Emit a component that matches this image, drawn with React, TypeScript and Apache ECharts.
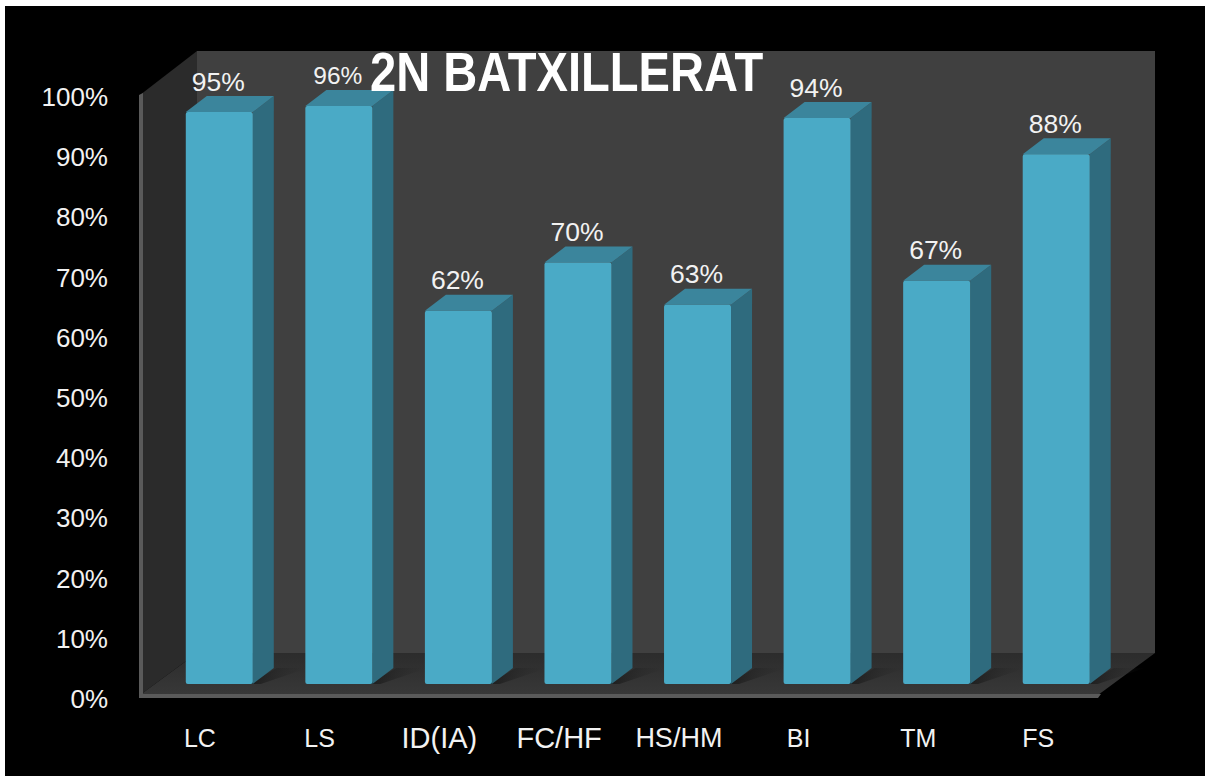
import React, { useEffect, useRef } from "react";
import * as echarts from "echarts";

const categories = ["LC", "LS", "ID(IA)", "FC/HF", "HS/HM", "BI", "TM", "FS"];
const categoryFontSizes = [25, 25, 29, 29, 27, 25, 25, 25];
const values = [95, 96, 62, 70, 63, 94, 67, 88];
const yTicks = [0, 10, 20, 30, 40, 50, 60, 70, 80, 90, 100];
const labelFontSizes = [26.5, 24.5, 26.5, 26.5, 26.5, 26.5, 26.5, 26.5];
const FONT = '"Liberation Sans", Arial, sans-serif';

const DX = 21;
const DY = 16;

function renderBar(params: any, api: any) {
  const i = api.value(0);
  const v = api.value(1);
  const [cx, top] = api.coord([i, v]);
  const [, base] = api.coord([i, 0]);
  const w = 67;
  const l = cx - w / 2;
  const r = cx + w / 2;
  return {
    type: "group",
    children: [
      {
        type: "polygon",
        shape: { points: [[r - 4, base], [r + DX + 3, base - DY], [r + DX + 34, base - DY], [r + 8, base]] },
        style: {
          fill: new echarts.graphic.LinearGradient(0, 0, 1, 0, [
            { offset: 0, color: "rgba(18,18,18,0.7)" },
            { offset: 1, color: "rgba(40,40,40,0)" },
          ]),
        },
      },
      {
        type: "polygon",
        shape: { points: [[r, top], [r + DX, top - DY], [r + DX, base - DY], [r, base]] },
        style: { fill: "#2f6b7e" },
      },
      {
        type: "polygon",
        shape: { points: [[l, top], [l + DX, top - DY], [r + DX, top - DY], [r, top]] },
        style: { fill: "#3b859c" },
      },
      {
        type: "rect",
        shape: { x: l, y: top, width: w, height: base - top, r: 2 },
        style: { fill: "#4aaac6" },
      },
      {
        type: "text",
        x: cx - 1,
        y: top - 30.5,
        style: {
          text: v + "%",
          fill: "#f2f2f2",
          font: `${labelFontSizes[i]}px ${FONT}`,
          align: "center",
          verticalAlign: "middle",
        },
      },
    ],
  };
}

export default function App() {
  const ref = useRef<HTMLDivElement>(null);
  useEffect(() => {
    const chart = echarts.init(ref.current!, undefined, { renderer: "svg" });
    const rich: Record<string, any> = {};
    categories.forEach((_, i) => {
      rich["c" + i] = { fontSize: categoryFontSizes[i], fontFamily: FONT, color: "#f2f2f2", lineHeight: 30, height: 30, verticalAlign: "middle" };
    });
    chart.setOption({
      animation: false,
      backgroundColor: "#000000",
      graphic: [
        { type: "rect", z: -10, shape: { x: 0, y: 0, width: 1205, height: 6 }, style: { fill: "#ffffff" } },
        { type: "rect", z: -10, shape: { x: 0, y: 0, width: 5, height: 776 }, style: { fill: "#ffffff" } },
        { type: "rect", z: -9, shape: { x: 197, y: 51, width: 958, height: 602 }, style: { fill: "#404040" } },
        { type: "polygon", z: -9, shape: { points: [[140, 95], [197, 51], [197, 653], [140, 695]] }, style: { fill: "#2b2b2b" } },
        {
          type: "polygon",
          z: -9,
          shape: { points: [[140, 695], [197, 653], [1155, 653], [1098, 695]] },
          style: {
            fill: new echarts.graphic.LinearGradient(0, 0, 0, 1, [
              { offset: 0, color: "#2c2c2c" },
              { offset: 1, color: "#383838" },
            ]),
          },
        },
        { type: "polygon", z: -8, shape: { points: [[139, 95], [143, 93], [143, 694], [1101, 694], [1098, 698], [139, 698]] }, style: { fill: "#5a5a5a" } },
        {
          type: "text",
          z: 20,
          x: 370,
          y: 72,
          scaleX: 0.841,
          style: {
            text: "2N BATXILLERAT",
            fill: "#ffffff",
            font: `bold 56px ${FONT}`,
            align: "left",
            verticalAlign: "middle",
          },
        },
      ],
      grid: [
        { left: 159.5, width: 956.5, top: 82, height: 602 },
        { left: 140, width: 958, top: 97, height: 602 },
      ],
      xAxis: [
        { gridIndex: 0, type: "category", data: categories, axisLine: { show: false }, axisTick: { show: false }, axisLabel: { show: false }, splitLine: { show: false } },
        {
          gridIndex: 1,
          type: "category",
          data: categories,
          axisLine: { show: false },
          axisTick: { show: false },
          splitLine: { show: false },
          axisLabel: {
            interval: 0,
            margin: 24,
            hideOverlap: false,
            formatter: (value: string, index: number) => `{c${index}|${value}}`,
            rich,
          },
        },
      ],
      yAxis: [
        { gridIndex: 0, type: "value", min: 0, max: 100, interval: 10, axisLine: { show: false }, axisTick: { show: false }, axisLabel: { show: false }, splitLine: { show: false } },
        {
          gridIndex: 1,
          type: "value",
          min: yTicks[0],
          max: yTicks[yTicks.length - 1],
          interval: yTicks[1] - yTicks[0],
          axisLine: { show: false },
          axisTick: { show: false },
          splitLine: { show: false },
          axisLabel: { color: "#f2f2f2", fontSize: 26, fontFamily: FONT, margin: 32, formatter: "{value}%" },
        },
      ],
      series: [
        {
          type: "custom",
          xAxisIndex: 0,
          yAxisIndex: 0,
          coordinateSystem: "cartesian2d",
          clip: false,
          z: 5,
          renderItem: renderBar,
          data: values.map((v, i) => [i, v]),
        },
      ],
    });
    return () => chart.dispose();
  }, []);
  return <div ref={ref} style={{ position: "absolute", left: 0, top: 0, width: 1205, height: 776 }} />;
}
